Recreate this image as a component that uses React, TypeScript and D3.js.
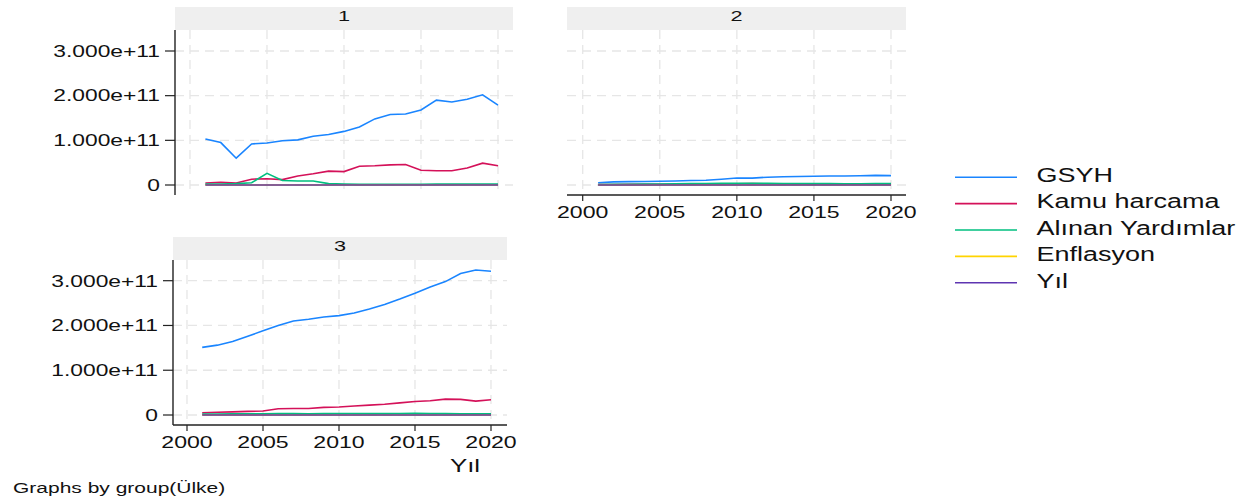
import React from "react";
import * as d3 from "d3";

const WIDTH = 1245;
const HEIGHT = 502;
const FONT = "'Liberation Sans', Arial, sans-serif";
const STRETCH = 1.4;

const years = [2001, 2002, 2003, 2004, 2005, 2006, 2007, 2008, 2009, 2010,
  2011, 2012, 2013, 2014, 2015, 2016, 2017, 2018, 2019, 2020];

const seriesNames = ["GSYH", "Kamu harcama", "Alınan Yardımlar", "Enflasyon", "Yıl"];
const seriesColors = ["#1a85ff", "#d41159", "#00bf7f", "#ffd400", "#5e35b1"];

const xTicks = [2000, 2005, 2010, 2015, 2020];
const yTicks = [0, 1e11, 2e11, 3e11];
const yTickLabels = ["0", "1.000e+11", "2.000e+11", "3.000e+11"];

// group 1 (values in 1e11)
const gsyh1 = [1.03, 0.95, 0.6, 0.92, 0.94, 0.99, 1.01, 1.09, 1.13, 1.2,
  1.3, 1.48, 1.58, 1.59, 1.68, 1.9, 1.86, 1.92, 2.02, 1.79];
const kamu1 = [0.045, 0.06, 0.045, 0.13, 0.14, 0.12, 0.2, 0.25, 0.31, 0.3,
  0.42, 0.43, 0.45, 0.46, 0.33, 0.32, 0.32, 0.38, 0.49, 0.43];
const yardim1 = [0.02, 0.02, 0.03, 0.05, 0.26, 0.1, 0.09, 0.09, 0.03, 0.02,
  0.015, 0.015, 0.015, 0.015, 0.015, 0.02, 0.02, 0.02, 0.02, 0.02];
const enf1 = [54.4, 45.0, 25.3, 8.6, 8.2, 9.6, 8.8, 10.4, 6.3, 8.6,
  6.5, 8.9, 7.5, 8.9, 7.7, 7.8, 11.1, 16.3, 15.2, 12.3];

// group 2
const gsyh2 = [0.05, 0.07, 0.075, 0.08, 0.085, 0.09, 0.1, 0.105, 0.13, 0.155,
  0.155, 0.175, 0.185, 0.19, 0.195, 0.2, 0.203, 0.207, 0.215, 0.21];
const kamu2 = [0.01, 0.012, 0.013, 0.015, 0.016, 0.018, 0.02, 0.022, 0.025, 0.028,
  0.03, 0.028, 0.025, 0.024, 0.022, 0.022, 0.021, 0.02, 0.021, 0.022];
const yardim2 = [0.01, 0.015, 0.018, 0.02, 0.022, 0.025, 0.03, 0.035, 0.04, 0.04,
  0.04, 0.04, 0.035, 0.032, 0.03, 0.03, 0.028, 0.028, 0.03, 0.03];
const enf2 = [4.1, 3.3, 2.7, 3.5, 4.2, 3.9, 4.4, 8.0, 2.1, 3.9,
  5.1, 3.3, 2.2, 1.5, 0.8, 1.1, 2.3, 2.7, 2.5, 1.9];

// group 3
const gsyh3 = [1.51, 1.56, 1.64, 1.76, 1.88, 2.0, 2.1, 2.14, 2.19, 2.22,
  2.28, 2.37, 2.47, 2.59, 2.72, 2.86, 2.98, 3.16, 3.24, 3.21];
const kamu3 = [0.05, 0.06, 0.07, 0.08, 0.09, 0.14, 0.145, 0.145, 0.17, 0.18,
  0.2, 0.22, 0.24, 0.27, 0.3, 0.32, 0.355, 0.35, 0.31, 0.34];
const yardim3 = [0.02, 0.02, 0.025, 0.025, 0.025, 0.03, 0.03, 0.025, 0.03, 0.035,
  0.035, 0.03, 0.03, 0.035, 0.04, 0.035, 0.03, 0.025, 0.025, 0.025];
const enf3 = [2.3, 2.7, 3.4, 4.6, 3.0, 2.1, 2.3, 3.9, 3.2, 2.8,
  3.4, 2.2, 1.4, 1.0, 0.5, 0.2, 1.3, 1.8, 1.6, 0.6];

const panels = [
  { name: "1", gsyh: gsyh1, kamu: kamu1, yardim: yardim1, enf: enf1,
    left: 175, right: 513, top: 30, bottom: 195, x0: 190, x1: 498, y0: 185, y3: 51,
    yAxis: true, xAxis: false },
  { name: "2", gsyh: gsyh2, kamu: kamu2, yardim: yardim2, enf: enf2,
    left: 567, right: 906, top: 30, bottom: 195, x0: 582.7, x1: 891, y0: 185, y3: 51,
    yAxis: false, xAxis: true },
  { name: "3", gsyh: gsyh3, kamu: kamu3, yardim: yardim3, enf: enf3,
    left: 173, right: 507, top: 260, bottom: 425, x0: 187, x1: 491, y0: 415, y3: 280.7,
    yAxis: true, xAxis: true },
];

function Txt({ x, y, size, anchor = "start", children }: any) {
  return (
    <text
      transform={`translate(${x},${y}) scale(${STRETCH},1)`}
      fontSize={size}
      fontFamily={FONT}
      textAnchor={anchor}
      fill="#111"
    >
      {children}
    </text>
  );
}

function Panel({ p }: any) {
  const x = d3.scaleLinear().domain([2000, 2020]).range([p.x0, p.x1]);
  const y = d3.scaleLinear().domain([0, 3e11]).range([p.y0, p.y3]);
  const line = d3.line<[number, number]>().x(d => x(d[0])).y(d => y(d[1]));

  const series = [
    p.gsyh.map((v: number) => v * 1e11),
    p.kamu.map((v: number) => v * 1e11),
    p.yardim.map((v: number) => v * 1e11),
    p.enf,
    years,
  ];

  return (
    <g>
      <rect x={p.left} y={p.top - 23} width={p.right - p.left} height={23} fill="#efefef" />
      <Txt x={(p.left + p.right) / 2} y={p.top - 9.3} size={15.5} anchor="middle">{p.name}</Txt>

      {yTicks.map(t => (
        <line key={"gy" + t} x1={p.left} x2={p.right} y1={y(t)} y2={y(t)}
          stroke="#e6e6e6" strokeWidth={1.3} strokeDasharray="9 6" />
      ))}
      {xTicks.map(t => (
        <line key={"gx" + t} x1={x(t)} x2={x(t)} y1={p.top} y2={p.bottom}
          stroke="#e6e6e6" strokeWidth={1.3} strokeDasharray="9 6" />
      ))}

      {series.map((vals, i) => (
        <path key={i} d={line(years.map((yr, j) => [yr, vals[j]]) as any) || ""}
          fill="none" stroke={seriesColors[i]} strokeWidth={1.6} />
      ))}

      {p.yAxis && (
        <g>
          <line x1={p.left} x2={p.left} y1={p.top} y2={p.bottom} stroke="#222" strokeWidth={1.4} />
          {yTicks.map((t, i) => (
            <g key={"yt" + t}>
              <line x1={p.left - 10} x2={p.left} y1={y(t)} y2={y(t)} stroke="#222" strokeWidth={1.2} />
              <Txt x={p.left - 15} y={y(t) + 5.8} size={16.3} anchor="end">{yTickLabels[i]}</Txt>
            </g>
          ))}
        </g>
      )}
      {p.xAxis && (
        <g>
          <line x1={p.left} x2={p.right} y1={p.bottom} y2={p.bottom} stroke="#222" strokeWidth={1.4} />
          {xTicks.map(t => (
            <g key={"xt" + t}>
              <line x1={x(t)} x2={x(t)} y1={p.bottom} y2={p.bottom + 6} stroke="#222" strokeWidth={1.2} />
              <Txt x={x(t)} y={p.bottom + 22.5} size={16.5} anchor="middle">{t}</Txt>
            </g>
          ))}
        </g>
      )}
    </g>
  );
}

export default function App() {
  const legendY = d3.scaleLinear().domain([0, 4]).range([177.3, 282.7]);
  return (
    <svg width={WIDTH} height={HEIGHT}
      style={{ position: "absolute", left: 0, top: 0, background: "#fff" }}>
      <rect width={WIDTH} height={HEIGHT} fill="#fff" />
      {panels.map(p => <Panel key={p.name} p={p} />)}

      <Txt x={465} y={471.5} size={18.5} anchor="middle">Yıl</Txt>
      <Txt x={13} y={493} size={15}>Graphs by group(Ülke)</Txt>

      {seriesNames.map((s, i) => (
        <g key={s}>
          <line x1={955} x2={1017} y1={legendY(i)} y2={legendY(i)}
            stroke={seriesColors[i]} strokeWidth={1.6} />
          <Txt x={1036.5} y={legendY(i) + 4.8} size={19.3}>{s}</Txt>
        </g>
      ))}
    </svg>
  );
}
